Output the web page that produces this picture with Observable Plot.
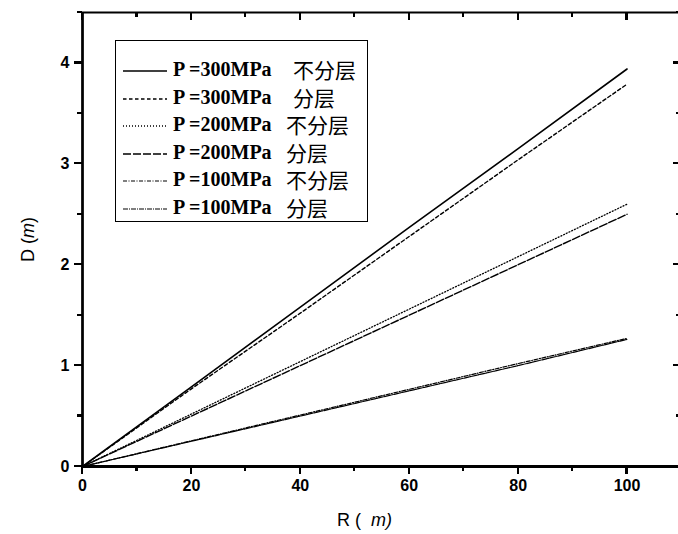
<!DOCTYPE html>
<html><head><meta charset="utf-8">
<script src="https://cdn.jsdelivr.net/npm/d3@7"></script>
<script src="https://cdn.jsdelivr.net/npm/@observablehq/plot@0.6"></script>
<style>
body{margin:0;background:#fff;}
#wrap{position:relative;width:678px;height:534px;overflow:hidden;background:#fff;}
#legend{position:absolute;left:115px;top:40px;width:253px;height:182px;border:1.5px solid #000;box-sizing:border-box;background:#fff;}
.row{position:absolute;left:0;height:28px;width:100%;}
.row svg{position:absolute;left:7px;top:9px;}
.row .p{position:absolute;left:57px;top:-1px;font:bold 20px "Liberation Serif","Times New Roman",serif;white-space:pre;line-height:26px;}
.row .c{position:absolute;top:-1px;font:21px "Noto Sans CJK SC",sans-serif;line-height:26px;}
.title{position:absolute;font:18px "Liberation Sans",Arial,sans-serif;white-space:pre;color:#000;}
</style></head><body><div id="wrap"></div>
<script>
// Data
const R = [0, 20, 40, 60, 80, 100];
const D_300_nolayer = [0, 0.79, 1.58, 2.37, 3.15, 3.94];
const D_300_layer   = [0, 0.77, 1.52, 2.28, 3.04, 3.79];
const D_200_nolayer = [0, 0.52, 1.04, 1.56, 2.08, 2.60];
const D_200_layer   = [0, 0.50, 1.00, 1.50, 2.00, 2.50];
const D_100_nolayer = [0, 0.255, 0.51, 0.765, 1.02, 1.27];
const D_100_layer   = [0, 0.25, 0.50, 0.75, 1.00, 1.26];
const seriesP = ["P =300MPa", "P =300MPa", "P =200MPa", "P =200MPa", "P =100MPa", "P =100MPa"];
const seriesType = ["不分层", "分层", "不分层", "分层", "不分层", "分层"];
const xTicks = [0, 20, 40, 60, 80, 100];
const xMinor = [10, 30, 50, 70, 90, 110];
const yTicks = [0, 1, 2, 3, 4];
const yMinor = [0.5, 1.5, 2.5, 3.5, 4.5];

// styles (kept separate from data)
const styles = [
  {dash: null, w: 1.6},
  {dash: "3.5,2.5", w: 1.4},
  {dash: "1,2", w: 1.3},
  {dash: "8,2", w: 1.4},
  {dash: "4,1.5,1,1.5", w: 1.2},
  {dash: "5,1,1,1", w: 1.2}
];
const allSeries = [D_300_nolayer, D_300_layer, D_200_nolayer, D_200_layer, D_100_nolayer, D_100_layer];

const lineMarks = allSeries.map((vals, s) =>
  Plot.line(R.map((r, i) => ({R: r, D: vals[i]})), {
    x: "R", y: "D", stroke: "#000", strokeWidth: styles[s].w,
    strokeDasharray: styles[s].dash
  })
);

const fmt = d => String(d);

// layout
const width = 678, height = 534;
const mL = 82, mR = -3, mT = 12, mB = 68;
const maj = 8, mnr = 5;

const chart = Plot.plot({
  width, height,
  marginLeft: mL, marginRight: mR, marginTop: mT, marginBottom: mB,
  style: {fontFamily: "'Liberation Sans', Arial, sans-serif", background: "#fff"},
  x: {domain: [0, 110]},
  y: {domain: [0, 4.5]},
  marks: [
    ...lineMarks,
    Plot.frame({stroke: "#000", strokeWidth: 2}),
    Plot.ruleY([0], {stroke: "#000", strokeWidth: 3}),
    Plot.ruleX([0], {stroke: "#000", strokeWidth: 2.5}),
    Plot.axisX(xTicks, {anchor: "bottom", tickSize: 0, tickPadding: 13, tickFormat: fmt, fontSize: 16, fontWeight: "bold", label: null}),
    Plot.axisY(yTicks, {anchor: "left", tickSize: 0, tickPadding: 13, tickFormat: fmt, fontSize: 16, fontWeight: "bold", label: null})
  ]
});

// Tick marks drawn with Plot's own scales
const sx = chart.scale("x"), sy = chart.scale("y");
const g = d3.select(chart).append("g").attr("stroke", "#000").attr("stroke-width", 2.2).attr("shape-rendering", "crispEdges");
const yb = sy.apply(0), yt0 = sy.apply(4.5), xl = sx.apply(0), xr = sx.apply(110);
[[xTicks, maj], [xMinor, mnr]].forEach(([ticks, len]) => {
  ticks.forEach(v => {
    const px = sx.apply(v);
    g.append("line").attr("x1", px).attr("x2", px).attr("y1", yb).attr("y2", yb + len);       // bottom, outward
    g.append("line").attr("x1", px).attr("x2", px).attr("y1", yt0).attr("y2", yt0 + len);     // top, inward
  });
});
[[yTicks, maj], [yMinor, mnr]].forEach(([ticks, len]) => {
  ticks.forEach(v => {
    const py = sy.apply(v);
    g.append("line").attr("y1", py).attr("y2", py).attr("x1", xl - len).attr("x2", xl);       // left, outward
    g.append("line").attr("y1", py).attr("y2", py).attr("x1", xr - len).attr("x2", xr);       // right, inward
  });
});

const wrap = document.getElementById("wrap");
wrap.appendChild(chart);

// Legend (HTML overlay)
const legend = document.createElement("div");
legend.id = "legend";
const cjkLeft = [177, 177, 170, 170, 170, 170];
seriesP.forEach((p, s) => {
  const row = document.createElement("div");
  row.className = "row";
  row.style.top = (16 + s * 27.6) + "px";
  const dash = styles[s].dash ? ` stroke-dasharray="${styles[s].dash}"` : "";
  row.innerHTML = `<svg width="44" height="10"><line x1="0" x2="44" y1="5" y2="5" stroke="#000" stroke-width="${styles[s].w}"${dash}/></svg>` +
    `<span class="p">${p}</span><span class="c" style="left:${cjkLeft[s]}px">${seriesType[s]}</span>`;
  legend.appendChild(row);
});
wrap.appendChild(legend);

// Axis titles
const xt = document.createElement("div");
xt.className = "title";
xt.style.left = "337px"; xt.style.top = "510px";
xt.innerHTML = 'R (  <i>m)</i>';
wrap.appendChild(xt);

const yt = document.createElement("div");
yt.className = "title";
yt.style.left = "0px"; yt.style.top = "0px";
yt.style.transformOrigin = "0 0";
yt.style.transform = "translate(18px, 262px) rotate(-90deg)";
yt.innerHTML = 'D (<i>m</i>)';
wrap.appendChild(yt);
</script>
</body></html>
